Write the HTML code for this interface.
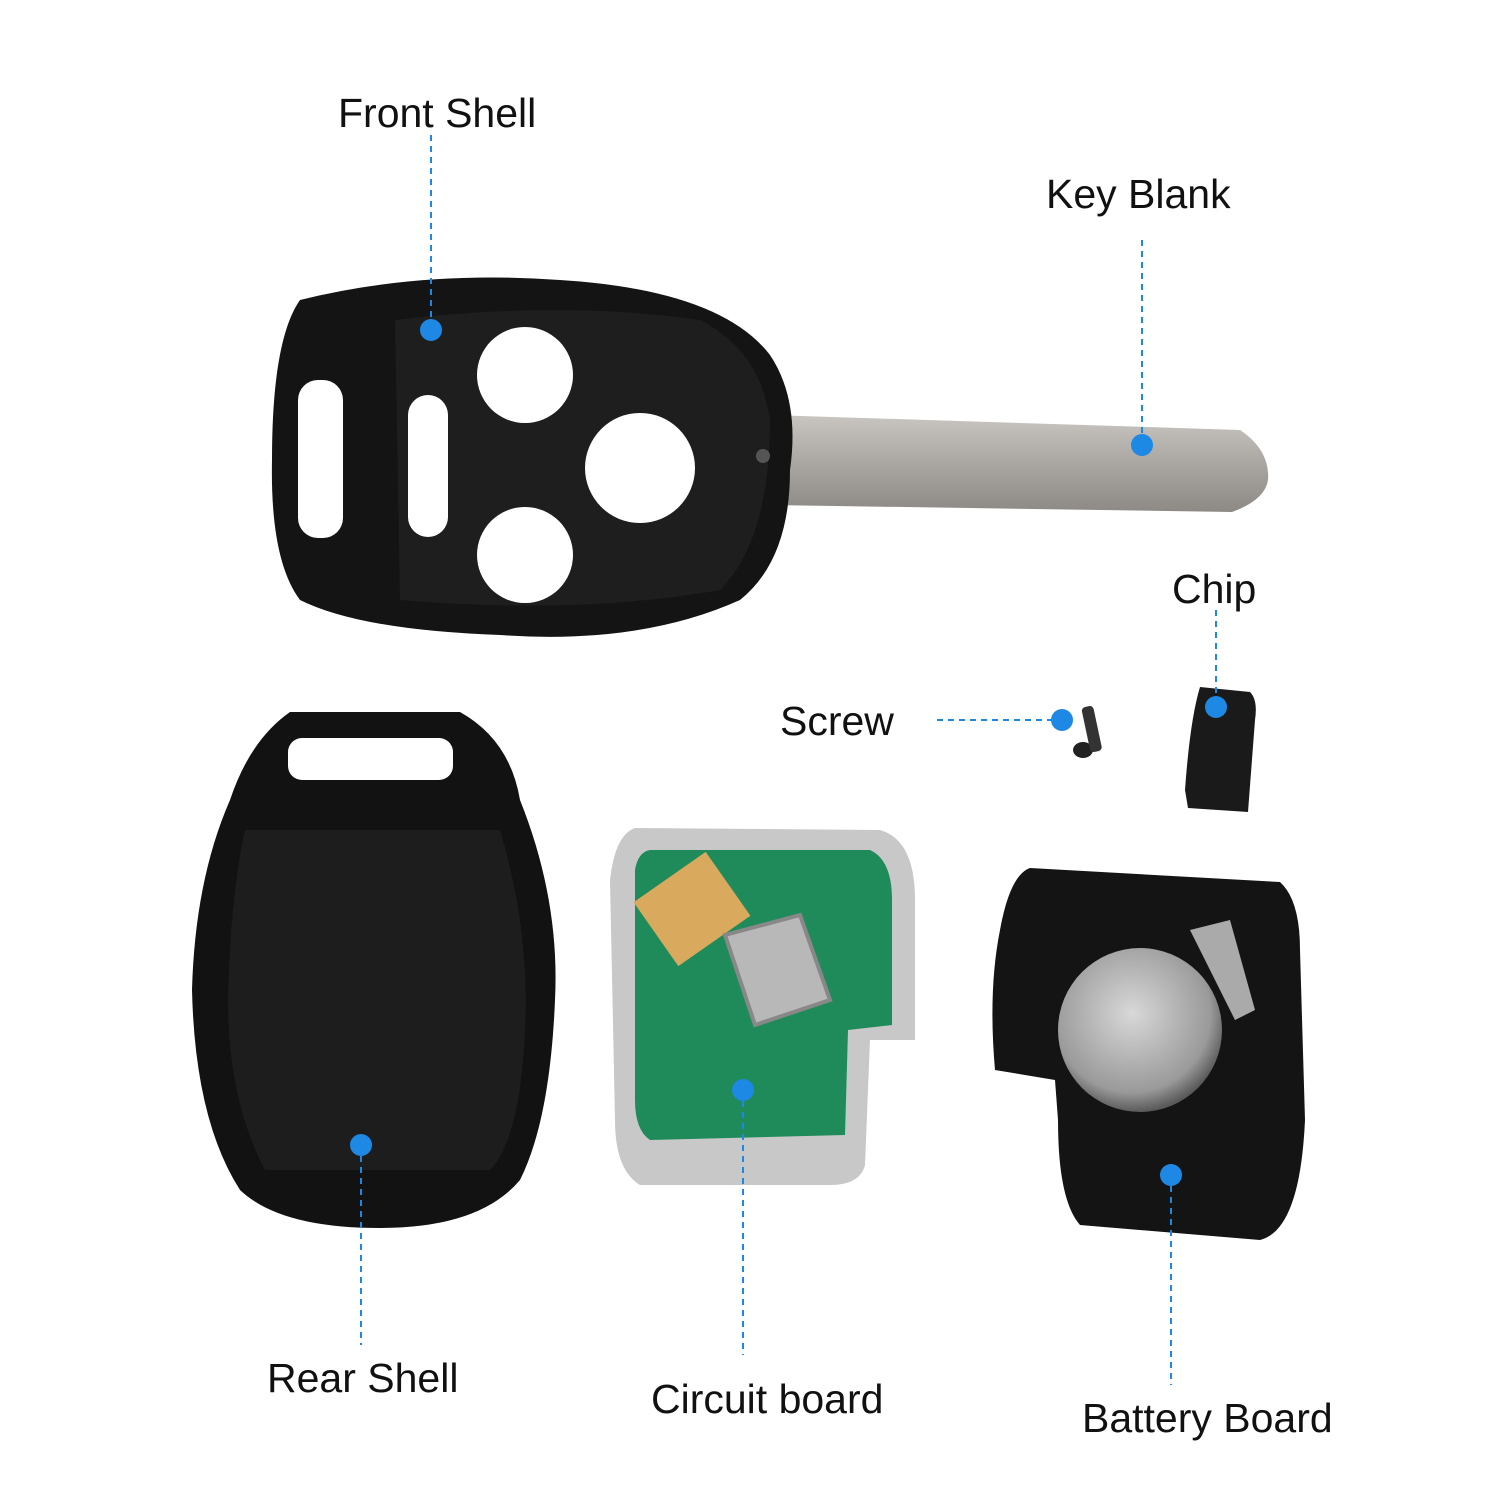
<!DOCTYPE html>
<html><head><meta charset="utf-8"><style>
html,body{margin:0;padding:0;background:#fff;width:1500px;height:1500px;overflow:hidden}
svg{display:block}
text{font-family:"Liberation Sans",sans-serif;font-size:41px;fill:#111}
</style></head><body>
<svg width="1500" height="1500" viewBox="0 0 1500 1500">
<defs>
<linearGradient id="blade" x1="0" y1="0" x2="0" y2="1"><stop offset="0" stop-color="#c9c5c1"/><stop offset="0.5" stop-color="#aaa6a2"/><stop offset="1" stop-color="#8d8985"/></linearGradient>
<radialGradient id="bat" cx="0.45" cy="0.4" r="0.6"><stop offset="0" stop-color="#d8d8d8"/><stop offset="0.8" stop-color="#9a9a9a"/><stop offset="1" stop-color="#5a5a5a"/></radialGradient>
</defs>
<path d="M770 415 L1240 430 Q1270 450 1268 480 Q1265 500 1232 512 L770 505 Z" fill="url(#blade)"/>
<path d="M300 300 Q420 270 560 280 Q720 290 770 355 Q800 400 790 470 Q790 560 740 600 Q640 645 500 635 Q360 630 300 600 Q270 560 272 460 Q272 340 300 300 Z" fill="#141414"/>
<path d="M395 320 Q560 300 700 320 Q760 350 770 420 Q770 540 720 590 Q580 615 400 600 Z" fill="#1e1e1e"/>
<circle cx="525" cy="375" r="48" fill="#fff"/>
<circle cx="640" cy="468" r="55" fill="#fff"/>
<circle cx="525" cy="555" r="48" fill="#fff"/>
<rect x="408" y="395" width="40" height="142" rx="20" fill="#fff"/>
<rect x="298" y="380" width="45" height="158" rx="20" fill="#fff"/>
<circle cx="763" cy="456" r="7" fill="#555"/>
<path d="M290 712 L460 712 Q510 740 520 800 Q560 900 555 1000 Q550 1120 520 1180 Q480 1228 380 1228 Q280 1228 240 1190 Q195 1120 192 990 Q195 880 230 800 Q250 740 290 712 Z" fill="#121212"/>
<path d="M245 830 L500 830 Q530 930 525 1030 Q520 1140 490 1170 L265 1170 Q228 1100 228 1000 Q230 900 245 830 Z" fill="#1d1d1d"/>
<rect x="288" y="738" width="165" height="42" rx="14" fill="#fff"/>
<path d="M635 828 L880 830 Q915 840 915 900 L915 1040 L870 1040 L865 1165 Q860 1185 830 1185 L640 1185 Q615 1170 615 1120 L610 880 Q615 835 635 828 Z" fill="#c8c8c8"/>
<path d="M650 850 L870 850 Q892 860 892 900 L892 1025 L848 1030 L845 1135 L650 1140 Q635 1130 635 1100 L635 870 Q638 852 650 850 Z" fill="#1f8a5a"/>
<rect x="648" y="870" width="88" height="78" fill="#d9a95e" transform="rotate(-35 692 909)"/>
<path d="M725 935 L800 915 L830 1000 L755 1025 Z" fill="#b8b8b8" stroke="#888" stroke-width="4"/>
<path d="M1030 868 L1280 882 Q1300 900 1300 950 L1305 1120 Q1300 1230 1260 1240 L1080 1225 Q1058 1200 1058 1120 L1055 1080 L995 1070 Q988 990 1000 930 Q1010 875 1030 868 Z" fill="#141414"/>
<circle cx="1140" cy="1030" r="82" fill="url(#bat)"/>
<path d="M1190 930 L1230 920 L1255 1010 L1235 1020 Z" fill="#aaa"/>
<path d="M1200 687 L1250 692 Q1258 700 1255 720 L1248 812 L1188 808 L1185 790 Q1190 720 1200 687 Z" fill="#1a1a1a"/>
<ellipse cx="1083" cy="750" rx="10" ry="8" fill="#222"/>
<rect x="1086" y="706" width="12" height="46" rx="4" fill="#333" transform="rotate(-12 1092 730)"/>
<g stroke="#1e88e5" stroke-width="2" stroke-dasharray="6,5" fill="none">
<line x1="431" y1="135" x2="431" y2="330"/>
<line x1="1142" y1="240" x2="1142" y2="445"/>
<line x1="1216" y1="610" x2="1216" y2="707"/>
<line x1="937" y1="720" x2="1062" y2="720"/>
<line x1="361" y1="1145" x2="361" y2="1345"/>
<line x1="743" y1="1090" x2="743" y2="1355"/>
<line x1="1171" y1="1175" x2="1171" y2="1385"/>
</g>
<g fill="#1e88e5">
<circle cx="431" cy="330" r="11"/><circle cx="1142" cy="445" r="11"/><circle cx="1216" cy="707" r="11"/>
<circle cx="1062" cy="720" r="11"/><circle cx="361" cy="1145" r="11"/><circle cx="743" cy="1090" r="11"/><circle cx="1171" cy="1175" r="11"/>
</g>
<text x="338" y="127">Front Shell</text>
<text x="1046" y="208">Key Blank</text>
<text x="1172" y="603">Chip</text>
<text x="780" y="735">Screw</text>
<text x="267" y="1392">Rear Shell</text>
<text x="651" y="1413">Circuit board</text>
<text x="1082" y="1432">Battery Board</text>
</svg>
</body></html>
